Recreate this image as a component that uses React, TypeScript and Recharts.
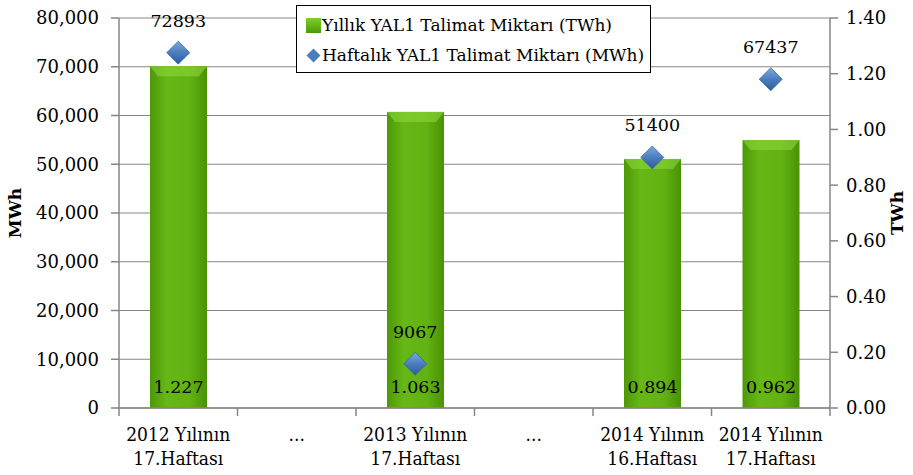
import React from 'react';
import {
  ComposedChart, Bar, Line, XAxis, YAxis, CartesianGrid, Legend, LabelList,
} from 'recharts';

const categories = [
  '2012 Yılının|17.Haftası',
  '...',
  '2013 Yılının|17.Haftası',
  '...',
  '2014 Yılının|16.Haftası',
  '2014 Yılının|17.Haftası',
];
const yearlyTWh: (number | null)[] = [1.227, null, 1.063, null, 0.894, 0.962];
const weeklyMWh: (number | null)[] = [72893, null, 9067, null, 51400, 67437];
const leftTicks = [0, 10000, 20000, 30000, 40000, 50000, 60000, 70000, 80000];
const rightTicks = [0, 0.2, 0.4, 0.6, 0.8, 1.0, 1.2, 1.4];

const data = categories.map((c, i) => ({
  name: c,
  yearly: yearlyTWh[i],
  weekly: weeklyMWh[i],
}));

const W = 913;
const H = 475;
const LEFT_W = 119;
const RIGHT_W = 83;
const FONT = '"DejaVu Serif", serif';
const AXIS = '#868686';

const step = (W - LEFT_W - RIGHT_W) / categories.length;

const XTick = (props: any) => {
  const { x, y, payload, index } = props;
  const lines = String(payload.value).split('|');
  return (
    <g>
      <line x1={x - step / 2} x2={x - step / 2} y1={y - 8} y2={y} stroke={AXIS} strokeWidth={1.5} />
      {index === categories.length - 1 && (
        <line x1={x + step / 2} x2={x + step / 2} y1={y - 8} y2={y} stroke={AXIS} strokeWidth={1.5} />
      )}
      <text
        x={x}
        y={y + 25}
        textAnchor="middle"
        fill="#000"
        style={{ fontFamily: '"DejaVu Serif Condensed", "DejaVu Serif", serif', fontSize: 19 }}
      >
        {lines.map((l, i) => (
          <tspan key={i} x={x} dy={i === 0 ? 0 : 24}>{l}</tspan>
        ))}
      </text>
    </g>
  );
};

const Diamond = (props: any) => {
  const { cx, cy, value } = props;
  if (value == null || cx == null || cy == null) return null;
  const r = 11.5;
  return (
    <polygon
      points={`${cx},${cy - r} ${cx + r},${cy} ${cx},${cy + r} ${cx - r},${cy}`}
      fill="url(#diamondGrad)"
      stroke="#3A6AA6"
      strokeWidth={0.8}
    />
  );
};

const BarShape = (props: any) => {
  const { x, y, width, height } = props;
  if (!height) return null;
  return (
    <g>
      <rect x={x} y={y} width={width} height={height} fill="url(#barGrad)" />
      <polygon
        points={`${x},${y} ${x + width},${y} ${x + width - 8},${y + 10} ${x + 8},${y + 10}`}
        fill="#8BD63A"
        opacity={0.6}
      />
    </g>
  );
};

const WeeklyLabel = (props: any) => {
  const { x, y, value } = props;
  if (value == null) return null;
  return (
    <text x={x} y={y - 26} textAnchor="middle" fill="#000" style={{ fontFamily: FONT, fontSize: 17.5 }}>
      {value}
    </text>
  );
};

const YearlyLabel = (props: any) => {
  const { x, y, width, height, value } = props;
  if (value == null) return null;
  return (
    <text x={x + width / 2} y={y + height - 15} textAnchor="middle" fill="#000" style={{ fontFamily: FONT, fontSize: 17.5 }}>
      {value.toFixed(3)}
    </text>
  );
};

const LegendBox = () => (
  <div
    style={{
      width: 355,
      height: 68,
      border: '1.5px solid #000',
      background: '#fff',
      fontFamily: FONT,
      fontSize: 17,
      color: '#000',
      boxSizing: 'border-box',
      padding: '4px 0 0 9px',
      whiteSpace: 'nowrap',
    }}
  >
    <div style={{ display: 'flex', alignItems: 'center', height: 30 }}>
      <span style={{ width: 15, height: 15, background: 'linear-gradient(#7ED02E, #4A9A06)', marginRight: 1, display: 'inline-block' }} />
      Yıllık YAL1 Talimat Miktarı (TWh)
    </div>
    <div style={{ display: 'flex', alignItems: 'center', height: 30 }}>
      <svg width={15} height={15} style={{ marginRight: 1 }}>
        <polygon points="7.5,0.5 14.5,7.5 7.5,14.5 0.5,7.5" fill="#4A7EBF" />
      </svg>
      Haftalık YAL1 Talimat Miktarı (MWh)
    </div>
  </div>
);

export default function App() {
  return (
    <div style={{ position: 'absolute', left: 0, top: 0, background: '#fff' }}>
      <ComposedChart width={W} height={H} data={data} margin={{ top: 18, right: 0, bottom: 0, left: 0 }}>
        <defs>
          <linearGradient id="barGrad" x1="0" y1="0" x2="1" y2="0">
            <stop offset="0%" stopColor="#4E9808" />
            <stop offset="30%" stopColor="#66B816" />
            <stop offset="70%" stopColor="#62B212" />
            <stop offset="100%" stopColor="#4A9206" />
          </linearGradient>
          <linearGradient id="diamondGrad" x1="0" y1="0" x2="0" y2="1">
            <stop offset="0%" stopColor="#7FA8DC" />
            <stop offset="50%" stopColor="#4A7EBF" />
            <stop offset="100%" stopColor="#2E5C98" />
          </linearGradient>
        </defs>
        <CartesianGrid vertical={false} stroke={AXIS} strokeWidth={1} yAxisId="left" />
        <XAxis
          dataKey="name"
          height={67}
          tick={<XTick />}
          tickLine={false}
          axisLine={{ stroke: AXIS, strokeWidth: 1.5 }}
          interval={0}
        />
        <YAxis
          yAxisId="left"
          orientation="left"
          width={LEFT_W}
          domain={[0, 80000]}
          ticks={leftTicks}
          tickFormatter={(v: number) => v.toLocaleString('en-US')}
          tick={{ fill: '#000', fontFamily: FONT, fontSize: 18 }}
          tickLine={{ stroke: AXIS, strokeWidth: 1.5 }}
          tickSize={8}
          tickMargin={12}
          axisLine={{ stroke: AXIS, strokeWidth: 1.5 }}
          label={{ value: 'MWh', angle: -90, position: 'insideLeft', offset: 15, style: { fontFamily: FONT, fontSize: 17, fontWeight: 'bold', fill: '#000', textAnchor: 'middle' } }}
        />
        <YAxis
          yAxisId="right"
          orientation="right"
          width={RIGHT_W}
          domain={[0, 1.4]}
          ticks={rightTicks}
          tickFormatter={(v: number) => v.toFixed(2)}
          tick={{ fill: '#000', fontFamily: FONT, fontSize: 18 }}
          tickLine={{ stroke: AXIS, strokeWidth: 1.5 }}
          tickSize={8}
          tickMargin={8}
          axisLine={{ stroke: AXIS, strokeWidth: 1.5 }}
          label={{ value: 'TWh', angle: -90, position: 'insideRight', offset: 16, style: { fontFamily: FONT, fontSize: 17, fontWeight: 'bold', fill: '#000', textAnchor: 'middle' } }}
        />
        <Legend
          layout="horizontal"
          verticalAlign="middle"
          align="center"
          content={<LegendBox />}
          wrapperStyle={{ top: 5, left: 296, width: 355 }}
        />
        <Bar yAxisId="right" dataKey="yearly" barSize={57} shape={<BarShape />} isAnimationActive={false}>
          <LabelList dataKey="yearly" content={<YearlyLabel />} />
        </Bar>
        <Line
          yAxisId="left"
          dataKey="weekly"
          stroke="none"
          dot={<Diamond />}
          activeDot={false}
          isAnimationActive={false}
        >
          <LabelList dataKey="weekly" content={<WeeklyLabel />} />
        </Line>
      </ComposedChart>
    </div>
  );
}
